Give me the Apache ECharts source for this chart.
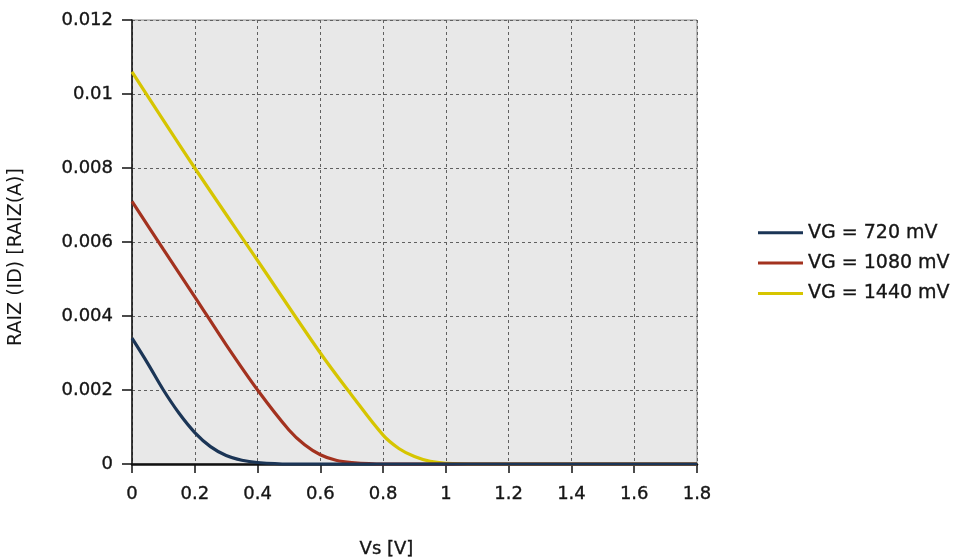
<!DOCTYPE html>
<html>
<head>
<meta charset="utf-8">
<script src="https://cdn.jsdelivr.net/npm/echarts@6/dist/echarts.min.js"></script>
<style>
  html, body { margin: 0; padding: 0; background: #fff; }
  #chart { width: 965px; height: 558px; }
</style>
</head>
<body>
<div id="chart"></div>
<script>
// Source voltage (V) and sqrt(ID) for each gate voltage
const vs720 = [0, 0.05, 0.1, 0.15, 0.2, 0.25, 0.3, 0.35, 0.4, 0.5, 1.8];
const vg720 = [0.0034, 0.00272, 0.0020, 0.00137, 0.00085, 0.00047, 0.00023, 0.0001, 0.00004, 0, 0];

const vs1080 = [0, 0.1, 0.2, 0.3, 0.4, 0.5, 0.55, 0.6, 0.65, 0.7, 0.8, 1.8];
const vg1080 = [0.0071, 0.0058, 0.00452, 0.00322, 0.0020, 0.00092, 0.00052, 0.00025, 0.0001, 0.00004, 0, 0];

const vs1440 = [0, 0.2, 0.4, 0.6, 0.7, 0.8, 0.85, 0.9, 0.95, 1.0, 1.1, 1.8];
const vg1440 = [0.0106, 0.0080, 0.0055, 0.0030, 0.00186, 0.00078, 0.00042, 0.0002, 0.00007, 0.00002, 0, 0];

const seriesNames = ['VG = 720 mV', 'VG = 1080 mV', 'VG = 1440 mV'];
const seriesColors = ['#1b3556', '#a3321f', '#d6c500'];

const pairs = (xs, ys) => xs.map((x, i) => [x, ys[i]]);

const FONT = 'DejaVu Sans';
const TXT = { fontFamily: FONT, color: '#151515', textBorderColor: '#151515', textBorderWidth: 0.35 };

const chart = echarts.init(document.getElementById('chart'), null, { renderer: 'canvas' });

const mkSeries = (name, xs, ys, color, z) => ({
  name: name,
  type: 'line',
  data: pairs(xs, ys),
  smooth: 0.35,
  showSymbol: false,
  symbol: 'none',
  clip: false,
  z: z,
  lineStyle: { color: color, width: 3.2 },
  itemStyle: { color: color }
});

chart.setOption({
  animation: false,
  backgroundColor: '#ffffff',
  grid: {
    left: 132, right: 268, top: 20, bottom: 94,
    outerBoundsMode: 'none',
    containLabel: false,
    show: true,
    backgroundColor: '#e8e8e8',
    borderColor: '#8a8a8a',
    borderWidth: 1
  },
  legend: {
    orient: 'vertical',
    left: 758,
    top: 223,
    padding: 0,
    itemWidth: 45,
    itemHeight: 3,
    itemGap: 11,
    icon: 'rect',
    data: seriesNames,
    textStyle: Object.assign({ fontSize: 19 }, TXT)
  },
  xAxis: {
    type: 'value',
    min: 0, max: 1.8, interval: 0.2,
    name: 'Vs [V]',
    nameLocation: 'middle',
    nameGap: 76,
    nameTextStyle: Object.assign({ fontSize: 18, padding: [0, 56, 0, 0] }, TXT),
    axisLine: { show: true, onZero: false, lineStyle: { color: '#111', width: 2.5 } },
    axisTick: { show: true, length: 9, lineStyle: { color: '#111', width: 1.5 } },
    axisLabel: Object.assign({ fontSize: 18, margin: 21 }, TXT),
    splitLine: { show: true, lineStyle: { color: '#606060', type: [3, 3], width: 1 } }
  },
  yAxis: {
    type: 'value',
    min: 0, max: 0.012, interval: 0.002,
    name: 'RAIZ (ID) [RAIZ(A)]',
    nameLocation: 'middle',
    nameRotate: 90,
    nameGap: 106,
    nameTextStyle: Object.assign({ fontSize: 19, padding: [0, 30, 0, 0] }, TXT, { textBorderWidth: 0 }),
    axisLine: { show: true, lineStyle: { color: '#111', width: 1.5 } },
    axisTick: { show: true, length: 10, lineStyle: { color: '#111', width: 1.5 } },
    axisLabel: Object.assign({ fontSize: 18, margin: 19 }, TXT),
    splitLine: { show: true, lineStyle: { color: '#606060', type: [3, 3], width: 1 } }
  },
  series: [
    mkSeries(seriesNames[0], vs720, vg720, seriesColors[0], 5),
    mkSeries(seriesNames[1], vs1080, vg1080, seriesColors[1], 4),
    mkSeries(seriesNames[2], vs1440, vg1440, seriesColors[2], 3)
  ]
});
</script>
</body>
</html>
